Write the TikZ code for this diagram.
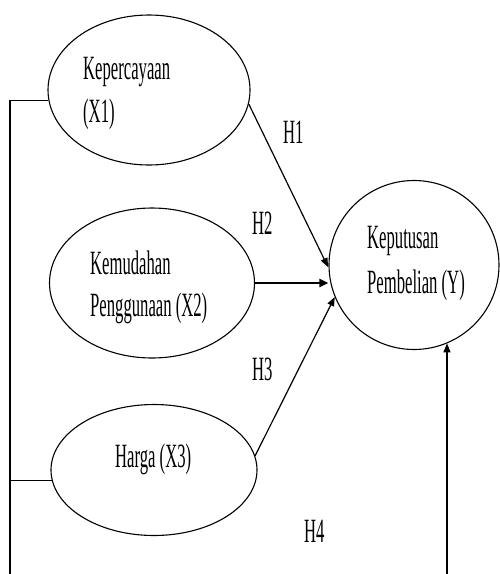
\documentclass[tikz,border=0pt]{standalone}
\usepackage{fontspec}
\newfontfamily\cfont[FakeStretch=0.49]{Liberation Serif}
\usetikzlibrary{shapes.geometric,arrows.meta}
\begin{document}
\begin{tikzpicture}[x=1pt,y=-1pt,
  oval/.style={draw,ellipse,line width=1.1pt,inner sep=0pt},
  lbl/.style={font=\cfont\fontsize{34}{34}\selectfont,inner sep=0pt,anchor=base west},
  conn/.style={line width=1.2pt},
  arr/.style={line width=1.2pt,-{Triangle[length=9pt,width=7pt]}},
  arrthick/.style={line width=2.4pt,-{Triangle[length=9pt,width=8pt]}}]
\useasboundingbox[fill=white] (0,0) rectangle (500,574);
% ellipses
\node[oval,minimum width=202pt,minimum height=150pt] (E1) at (149,90) {};
\node[oval,minimum width=205pt,minimum height=150pt] (E2) at (152,283) {};
\node[oval,minimum width=206pt,minimum height=131pt] (E3) at (154,470) {};
\node[oval,minimum width=170pt,minimum height=169pt] (EY) at (414,265) {};
% texts
\node[lbl] (t1a) at (83,79) {Kepercayaan};
\node[lbl] (t1b) at (83,122) {(X1)};
\node[lbl] (t2a) at (90,274) {Kemudahan};
\node[lbl] (t2b) at (90,316) {Penggunaan (X2)};
\node[lbl] (t3) at (115,467) {Harga (X3)};
\node[lbl] (tya) at (367,248) {Keputusan};
\node[lbl] (tyb) at (367,293) {Pembelian (Y)};
% hypothesis labels
\node[lbl] (h1) at (283,143) {H1};
\node[lbl] (h2) at (252,234) {H2};
\node[lbl] (h3) at (252,380) {H3};
\node[lbl] (h4) at (304,542) {H4};
% left bracket
\coordinate (cl) at (10,574);
\coordinate (cr) at (447,574);
\draw[conn] (cl) |- (E1.186);
\draw[conn] (cl |- E3.186) -- (E3.186);
% arrows
\draw[arr,shorten >=1pt] (E1.-8) -- (EY.182);
\draw[arrthick] (E2.east) -- (E2.east -| EY.west);
\draw[arr] (E3.8) -- (EY.202);
\draw[arr] (cr) -- (cr |- EY.-67);
\end{tikzpicture}
\end{document}
